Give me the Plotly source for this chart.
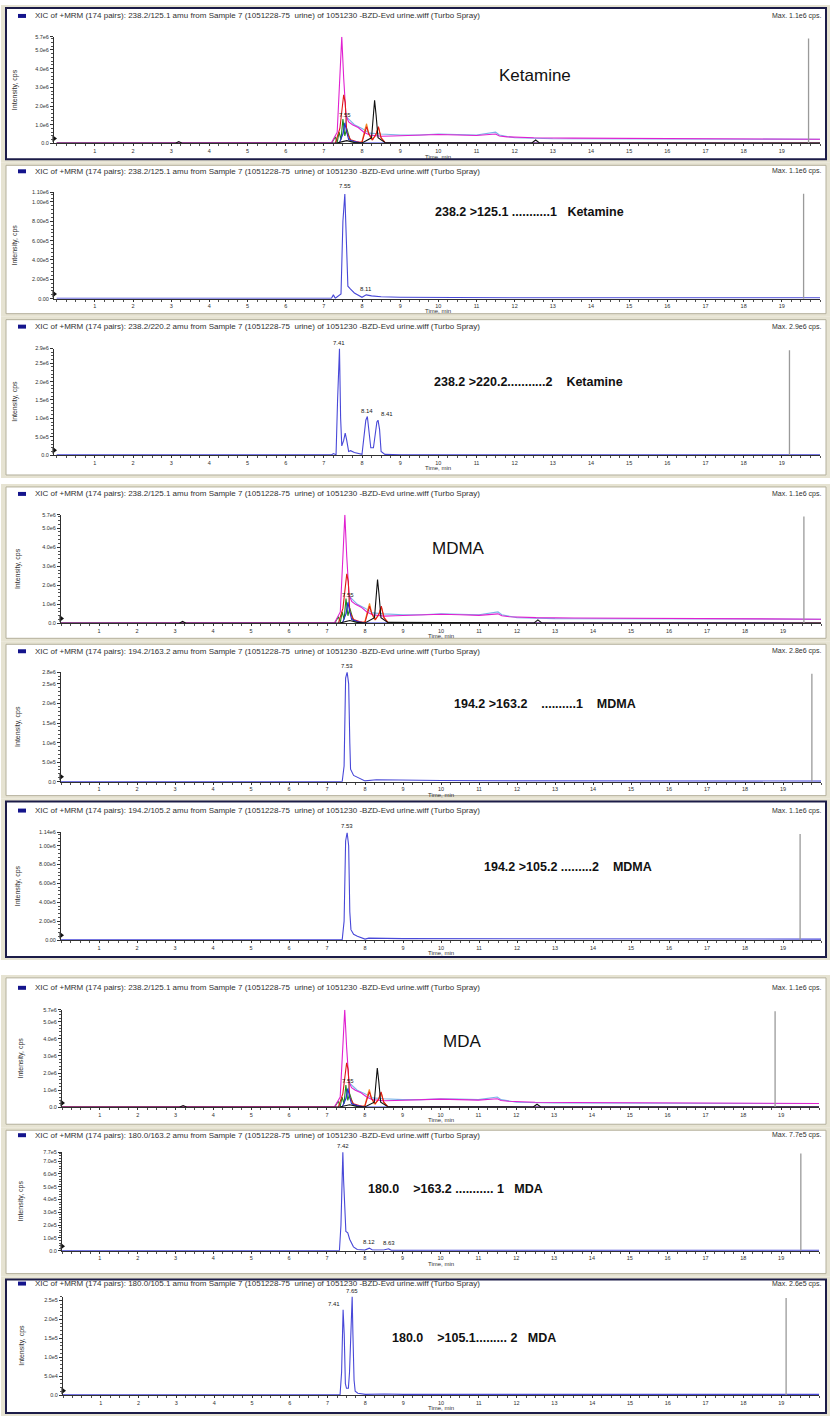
"""LC-MS/MS MRM chromatograms: Ketamine, MDMA, MDA (urine sample 7)."""

import plotly.graph_objects as go

W, H = 831, 1421

# ---------------- data: time (min) / intensity (cps) ----------------
# overlaid XIC of all transitions (top panel of each group)
OV_MAGENTA_T = [0.0, 3.0, 7.2, 7.35, 7.42, 7.47, 7.52, 7.58, 7.65, 7.75, 7.9, 8.05, 8.2, 8.35,
                8.5, 8.8, 9.2, 9.6, 10.0, 10.5, 11.0, 11.5, 11.6, 11.8, 12.5, 13.5, 14.5, 15.5,
                16.5, 17.5, 18.5, 19.5, 20.0]
OV_MAGENTA_Y = [2e4, 3e4, 3e4, 6e5, 3.8e6, 5.7e6, 3.5e6, 1.5e6, 1.15e6, 1.0e6, 0.85e6, 0.6e6, 0.45e6, 0.4e6,
                0.38e6, 0.4e6, 0.42e6, 0.44e6, 0.48e6, 0.45e6, 0.42e6, 0.5e6, 0.4e6, 0.35e6, 0.3e6, 0.28e6, 0.27e6, 0.25e6,
                0.24e6, 0.23e6, 0.22e6, 0.22e6, 0.22e6]
OV_RED_T = [0.0, 7.3, 7.42, 7.48, 7.52, 7.56, 7.6, 7.7, 7.85, 8.0, 8.07, 8.12, 8.18, 8.28, 8.37, 8.43, 8.5, 8.6, 9.0, 20.0]
OV_RED_Y = [1e4, 1e4, 0.8e6, 2.0e6, 2.6e6, 2.2e6, 0.6e6, 0.2e6, 0.1e6, 0.05e6, 0.6e6, 0.9e6, 0.5e6, 0.2e6, 0.5e6, 0.9e6, 0.3e6, 0.05e6, 2e4, 2e4]
OV_BLACK_T = [0.0, 3.1, 3.2, 3.3, 7.3, 7.5, 7.6, 7.8, 8.0, 8.25, 8.3, 8.33, 8.37, 8.42, 8.6, 12.45, 12.55, 12.65, 20.0]
OV_BLACK_Y = [0, 0, 0.1e6, 0, 0, 0.1e6, 0.15e6, 0.05e6, 0.02e6, 0.3e6, 1.8e6, 2.3e6, 1.5e6, 0.3e6, 0.05e6, 0.02e6, 0.18e6, 0.02e6, 0.02e6]
OV_BLUE_T = [0.0, 7.4, 7.5, 7.55, 7.6, 7.65, 7.8, 8.0, 20.0]
OV_BLUE_Y = [0, 0, 0.5e6, 1.1e6, 0.6e6, 0.2e6, 0.1e6, 0.02e6, 0.01e6]
OV_CYAN_T = [7.5, 7.6, 7.7, 7.8, 8.0, 8.2, 8.5, 9.0, 9.5, 10.0, 10.5, 11.0, 11.5, 11.6, 12.0, 13.0, 20.0]
OV_CYAN_Y = [0.5e6, 1.4e6, 1.2e6, 1.0e6, 0.8e6, 0.55e6, 0.5e6, 0.45e6, 0.45e6, 0.5e6, 0.48e6, 0.45e6, 0.6e6, 0.45e6, 0.3e6, 0.25e6, 0.22e6]
OV_GREEN_T = [7.2, 7.3, 7.35, 7.4, 7.45, 7.5, 7.55, 7.6, 7.7, 8.0]
OV_GREEN_Y = [0, 0.35e6, 0.05e6, 0.6e6, 0.2e6, 1.3e6, 0.4e6, 0.8e6, 0.1e6, 0]
OV_ORANGE_T = [7.9, 8.0, 8.07, 8.12, 8.18, 8.25, 8.35, 8.43, 8.5, 8.6]
OV_ORANGE_Y = [0, 0.1e6, 0.7e6, 1.05e6, 0.5e6, 0.2e6, 0.4e6, 0.85e6, 0.3e6, 0.05e6]

# single transitions
K1_T = [0.0, 7.2, 7.25, 7.3, 7.45, 7.5, 7.55, 7.6, 7.63, 7.7, 7.8, 8.0, 8.11, 8.25, 8.5, 9.0, 10.0, 12.0, 15.0, 20.0]
K1_Y = [5e3, 5e3, 4e4, 5e3, 5e4, 8e5, 1.08e6, 6e5, 1.3e5, 1e5, 6e4, 1.5e4, 4e4, 3e4, 2e4, 1.5e4, 1.2e4, 1e4, 1e4, 1e4]
K2_T = [0.0, 7.2, 7.25, 7.32, 7.36, 7.39, 7.41, 7.44, 7.47, 7.52, 7.56, 7.6, 7.65, 7.7, 7.8, 8.0, 8.06, 8.1, 8.14, 8.18,
        8.23, 8.3, 8.36, 8.39, 8.42, 8.46, 8.5, 8.6, 9.0, 20.0]
K2_Y = [5e3, 5e3, 4e4, 1e4, 1.5e6, 2.5e6, 2.9e6, 1.0e6, 0.25e6, 0.4e6, 0.6e6, 0.4e6, 0.1e6, 0.12e6, 0.07e6, 0.02e6, 0.5e6, 0.95e6, 1.05e6, 0.7e6,
        0.2e6, 0.2e6, 0.6e6, 0.9e6, 0.95e6, 0.7e6, 0.1e6, 0.02e6, 1e4, 5e3]
M1_T = [0.0, 7.4, 7.45, 7.49, 7.53, 7.57, 7.6, 7.62, 7.7, 7.8, 7.95, 8.0, 8.3, 9.0, 10.0, 12.0, 20.0]
M1_Y = [5e3, 5e3, 4e5, 2.65e6, 2.8e6, 2.5e6, 1.0e6, 3.2e5, 1.6e5, 1.2e5, 5e4, 2e4, 5e4, 4e4, 3e4, 2e4, 1.5e4]
M2_T = [0.0, 7.4, 7.45, 7.49, 7.53, 7.57, 7.6, 7.63, 7.7, 7.8, 8.0, 8.1, 9.0, 20.0]
M2_Y = [3e3, 3e3, 2e5, 1.05e6, 1.14e6, 1.0e6, 3e5, 1.1e5, 6e4, 4e4, 1e4, 2e4, 1.5e4, 1e4]
A1_T = [0.0, 7.33, 7.37, 7.4, 7.42, 7.44, 7.47, 7.5, 7.55, 7.6, 7.7, 7.8, 8.0, 8.12, 8.2, 8.5, 8.63, 8.7, 9.0, 20.0]
A1_Y = [2e3, 2e3, 2e5, 5.8e5, 7.7e5, 5.5e5, 3.0e5, 1.5e5, 1.4e5, 9e4, 3e4, 1e4, 5e3, 2e4, 5e3, 5e3, 1.5e4, 3e3, 3e3, 3e3]
A2_T = [0.0, 7.33, 7.37, 7.39, 7.41, 7.44, 7.47, 7.5, 7.55, 7.58, 7.61, 7.63, 7.65, 7.67, 7.7, 7.73, 7.8, 8.0, 8.5, 9.0, 20.0]
A2_Y = [1e3, 1e3, 6e4, 1.7e5, 2.25e5, 1.6e5, 3e4, 1.8e4, 1.8e4, 6e4, 1.6e5, 2.25e5, 2.6e5, 1.6e5, 4e4, 1e4, 5e3, 2e3, 3e3, 2e3, 2e3]

# peak labels: (retention time, height, text, anchor)
PK_OV = [(7.55, 1.2e6, "7.55", "center")]
PK_K1 = [(7.55, 1.1e6, "7.55", "center"), (8.11, 4e4, "8.11", "center")]
PK_K2 = [(7.41, 2.9e6, "7.41", "center"), (8.14, 1.05e6, "8.14", "center"), (8.44, 0.95e6, "8.41", "left")]
PK_M1 = [(7.53, 2.8e6, "7.53", "center")]
PK_M2 = [(7.53, 1.14e6, "7.53", "center")]
PK_A1 = [(7.42, 7.7e5, "7.42", "center"), (8.12, 2e4, "8.12", "center"), (8.63, 1.5e4, "8.63", "center")]
PK_A2 = [(7.39, 2.25e5, "7.41", "right"), (7.65, 2.6e5, "7.65", "center")]

# y ticks
YT_OV = [0, 1e6, 2e6, 3e6, 4e6, 5e6, 5.7e6]
YL_OV = ["0.0", "1.0e6", "2.0e6", "3.0e6", "4.0e6", "5.0e6", "5.7e6"]
YT_K1 = [0, 2e5, 4e5, 6e5, 8e5, 1e6, 1.1e6]
YL_K1 = ["0.00", "2.00e5", "4.00e5", "6.00e5", "8.00e5", "1.00e6", "1.10e6"]
YT_K2 = [0, 5e5, 1e6, 1.5e6, 2e6, 2.5e6, 2.9e6]
YL_K2 = ["0.0", "5.0e5", "1.0e6", "1.5e6", "2.0e6", "2.5e6", "2.9e6"]
YT_M1 = [0, 5e5, 1e6, 1.5e6, 2e6, 2.5e6, 2.8e6]
YL_M1 = ["0.0", "5.0e5", "1.0e6", "1.5e6", "2.0e6", "2.5e6", "2.8e6"]
YT_M2 = [0, 2e5, 4e5, 6e5, 8e5, 1e6, 1.14e6]
YL_M2 = ["0.00", "2.00e5", "4.00e5", "6.00e5", "8.00e5", "1.00e6", "1.14e6"]
YT_A1 = [0, 1e5, 2e5, 3e5, 4e5, 5e5, 6e5, 7e5, 7.7e5]
YL_A1 = ["0.0", "1.0e5", "2.0e5", "3.0e5", "4.0e5", "5.0e5", "6.0e5", "7.0e5", "7.7e5"]
YT_A2 = [0, 5e4, 1e5, 1.5e5, 2e5, 2.5e5]
YL_A2 = ["0.0", "5.0e4", "1.0e5", "1.5e5", "2.0e5", "2.5e5"]
Y_TOP = [5.7e6, 1.1e6, 2.9e6, 5.7e6, 2.8e6, 1.14e6, 5.7e6, 7.7e5, 2.6e5]

X_TICKS = list(range(1, 20))

TRANSITIONS = ["238.2/125.1", "238.2/125.1", "238.2/220.2", "238.2/125.1", "194.2/163.2",
               "194.2/105.2", "238.2/125.1", "180.0/163.2", "180.0/105.1"]
MAX_TEXT = ["Max. 1.1e6 cps.", "Max. 1.1e6 cps.", "Max. 2.9e6 cps.", "Max. 1.1e6 cps.", "Max. 2.8e6 cps.",
            "Max. 1.1e6 cps.", "Max. 1.1e6 cps.", "Max. 7.7e5 cps.", "Max. 2.6e5 cps."]
LABELS = ["Ketamine", "<b>238.2 >125.1 ...........1   Ketamine</b>", "<b>238.2 >220.2...........2    Ketamine</b>",
          "MDMA", "<b>194.2 >163.2    ..........1    MDMA</b>", "<b>194.2 >105.2 .........2    MDMA</b>",
          "MDA", "<b>180.0    >163.2 ........... 1   MDA</b>", "<b>180.0    >105.1......... 2   MDA</b>"]
# grey marker line near the end of each run
GREY_X = [19.7, 19.57, 19.2, 19.55, 19.76, 19.45, 18.84, 19.52, 19.13]

HEADER = "XIC of +MRM (174 pairs): {} amu from Sample 7 (1051228-75  urine) of 1051230 -BZD-Evd urine.wiff (Turbo Spray)"

# ---------------- layout (pixels) ----------------
# frame_top, frame_bottom, dark_frame, ax_left, ax_right, ax_top, ax_bottom, header_y, time_y, ytitle_x, x0
GEOM = [
    (2, 160, True, 54, 820, 34, 141, 13, 155, 15, -0.07),
    (160, 315, False, 54, 820, 190, 297, 169, 309, 15, -0.07),
    (315, 477, False, 54, 820, 347, 454, 325, 467, 15, -0.07),
    (483, 641, False, 61, 821, 514, 623, 493, 636, 18, 0.0),
    (641, 799, False, 61, 821, 672, 782, 651, 795, 18, 0.0),
    (799, 961, True, 61, 821, 833, 941, 811, 954, 18, 0.0),
    (976, 1129, False, 62, 819, 1011, 1109, 989, 1122, 21, 0.0),
    (1129, 1279, False, 62, 819, 1154, 1253, 1137, 1266, 21, 0.0),
    (1279, 1419, True, 63, 819, 1299, 1398, 1286, 1411, 22, 0.0),
]
LABEL_POS = [(497, 73, 17), (433, 210, 12.5), (432, 381, 12.5), (430, 548, 17), (452, 704, 12.5),
             (482, 868, 12.5), (441, 1043, 17), (366, 1191, 12.5), (390, 1341, 12.5)]
Y_MINOR = [2e5, 4e4, 1e5, 2e5, 1e5, 4e4, 2e5, 2e4, 1e4]

FONT = "Arial, Liberation Sans, sans-serif"
BLUE = "#4848d8"


def fx(px):
    return px / W


def fy(py):
    return 1 - py / H


def keep_spaces(s):
    return s.replace("  ", "\u00a0\u00a0")


overview = [
    (OV_CYAN_T, OV_CYAN_Y, "#7ab4e8"),
    (OV_GREEN_T, OV_GREEN_Y, "#1e8a1e"),
    (OV_ORANGE_T, OV_ORANGE_Y, "#f08a24"),
    (OV_MAGENTA_T, OV_MAGENTA_Y, "#e020d0"),
    (OV_RED_T, OV_RED_Y, "#e01818"),
    (OV_BLUE_T, OV_BLUE_Y, "#2a2ad0"),
    (OV_BLACK_T, OV_BLACK_Y, "#101010"),
]
panel_series = [overview, [(K1_T, K1_Y, BLUE)], [(K2_T, K2_Y, BLUE)],
                overview, [(M1_T, M1_Y, BLUE)], [(M2_T, M2_Y, BLUE)],
                overview, [(A1_T, A1_Y, BLUE)], [(A2_T, A2_Y, BLUE)]]
panel_peaks = [PK_OV, PK_K1, PK_K2, PK_OV, PK_M1, PK_M2, PK_OV, PK_A1, PK_A2]
panel_ticks = [(YT_OV, YL_OV), (YT_K1, YL_K1), (YT_K2, YL_K2), (YT_OV, YL_OV), (YT_M1, YL_M1),
               (YT_M2, YL_M2), (YT_OV, YL_OV), (YT_A1, YL_A1), (YT_A2, YL_A2)]

fig = go.Figure()
shapes, annotations, layout = [], [], {}

for i, g in enumerate(GEOM):
    (f_top, f_bot, dark, ax_l, ax_r, ax_t, ax_b, head_y, time_y, yt_x, x0) = g
    n = "" if i == 0 else str(i + 1)
    xa, ya = "x" + n, "y" + n
    top = Y_TOP[i]

    # panel frame: beige window border + white client area
    shapes.append(dict(type="rect", xref="paper", yref="paper", layer="below",
                       x0=fx(1), x1=fx(830), y0=fy(f_top), y1=fy(f_bot),
                       fillcolor="#e6e3d2", line=dict(width=0)))
    shapes.append(dict(type="rect", xref="paper", yref="paper", layer="below",
                       x0=fx(6), x1=fx(826), y0=fy(f_top + 3), y1=fy(f_bot - 3),
                       fillcolor="white",
                       line=dict(color="#1c1c48" if dark else "#b4b09c", width=2 if dark else 1)))
    # header icon
    shapes.append(dict(type="rect", xref="paper", yref="paper",
                       x0=fx(18), x1=fx(26), y0=fy(head_y - 2), y1=fy(head_y + 2),
                       fillcolor="#14148c", line=dict(width=0)))

    for t, y, c in panel_series[i]:
        fig.add_trace(go.Scatter(x=t, y=y, mode="lines", xaxis=xa, yaxis=ya,
                                 line=dict(color=c, width=1.1), hoverinfo="skip"))
    fig.add_trace(go.Scatter(x=[GREY_X[i], GREY_X[i]], y=[0, top * 0.985], mode="lines",
                             xaxis=xa, yaxis=ya, line=dict(color="#9a9a9a", width=1.3),
                             hoverinfo="skip"))
    fig.add_trace(go.Scatter(x=[x0], y=[top * 0.045], mode="markers", xaxis=xa, yaxis=ya,
                             cliponaxis=False, hoverinfo="skip",
                             marker=dict(symbol="triangle-right", size=6, color="#101010")))

    tv, tl = panel_ticks[i]
    layout["xaxis" + n] = dict(
        domain=[fx(ax_l), fx(ax_r)], anchor=ya, range=[x0, 20.0],
        tickvals=X_TICKS, ticktext=[str(v) for v in X_TICKS],
        showline=True, linecolor="#303030", linewidth=1, ticks="outside", ticklen=2,
        tickcolor="#303030", tickfont=dict(size=5.5, color="#303030", family=FONT),
        minor=dict(ticks="outside", ticklen=2, dtick=0.25, tick0=0, tickcolor="#505050"),
        showgrid=False, zeroline=False, fixedrange=True)
    layout["yaxis" + n] = dict(
        domain=[fy(ax_b), fy(ax_t)], anchor=xa, range=[0, top],
        tickvals=tv, ticktext=tl,
        showline=True, linecolor="#303030", linewidth=1, ticks="outside", ticklen=3,
        tickcolor="#303030", tickfont=dict(size=5.5, color="#303030", family=FONT),
        minor=dict(ticks="outside", ticklen=2, dtick=Y_MINOR[i], tick0=0, tickcolor="#505050"),
        showgrid=False, zeroline=False, fixedrange=True)

    annotations += [
        dict(xref="paper", yref="paper", x=fx(33), y=fy(head_y), xanchor="left", yanchor="middle",
             text=keep_spaces(HEADER.format(TRANSITIONS[i])), showarrow=False,
             font=dict(size=8, color="#303030", family=FONT)),
        dict(xref="paper", yref="paper", x=fx(823), y=fy(head_y), xanchor="right", yanchor="middle",
             text=MAX_TEXT[i], showarrow=False, font=dict(size=7, color="#303030", family=FONT)),
        dict(xref="paper", yref="paper", x=fx(yt_x), y=fy((ax_t + ax_b) / 2), textangle=-90,
             xanchor="center", yanchor="middle", text="Intensity, cps", showarrow=False,
             font=dict(size=7, color="#303030", family=FONT)),
        dict(xref=xa, yref="paper", x=10.0, y=fy(time_y), xanchor="center", yanchor="middle",
             text="Time, min", showarrow=False, font=dict(size=6, color="#303030", family=FONT)),
    ]
    lx, ly, ls = LABEL_POS[i]
    annotations.append(dict(xref="paper", yref="paper", x=fx(lx), y=fy(ly), xanchor="left",
                            yanchor="middle", text=keep_spaces(LABELS[i]), showarrow=False,
                            font=dict(size=ls, color="#111111", family=FONT)))
    for rt, h, txt, anc in panel_peaks[i]:
        annotations.append(dict(xref=xa, yref=ya, x=rt, y=h, xanchor=anc, yanchor="bottom",
                                text=txt, showarrow=False, yshift=1,
                                font=dict(size=6, color="#202020", family=FONT)))

fig.update_layout(
    width=W, height=H, margin=dict(l=0, r=0, t=0, b=0),
    paper_bgcolor="white", plot_bgcolor="rgba(0,0,0,0)",
    showlegend=False, shapes=shapes, annotations=annotations, **layout)

fig.write_html("out.html", config={"displayModeBar": False},
               post_script="document.body.style.margin='0';document.body.style.overflow='hidden';")
